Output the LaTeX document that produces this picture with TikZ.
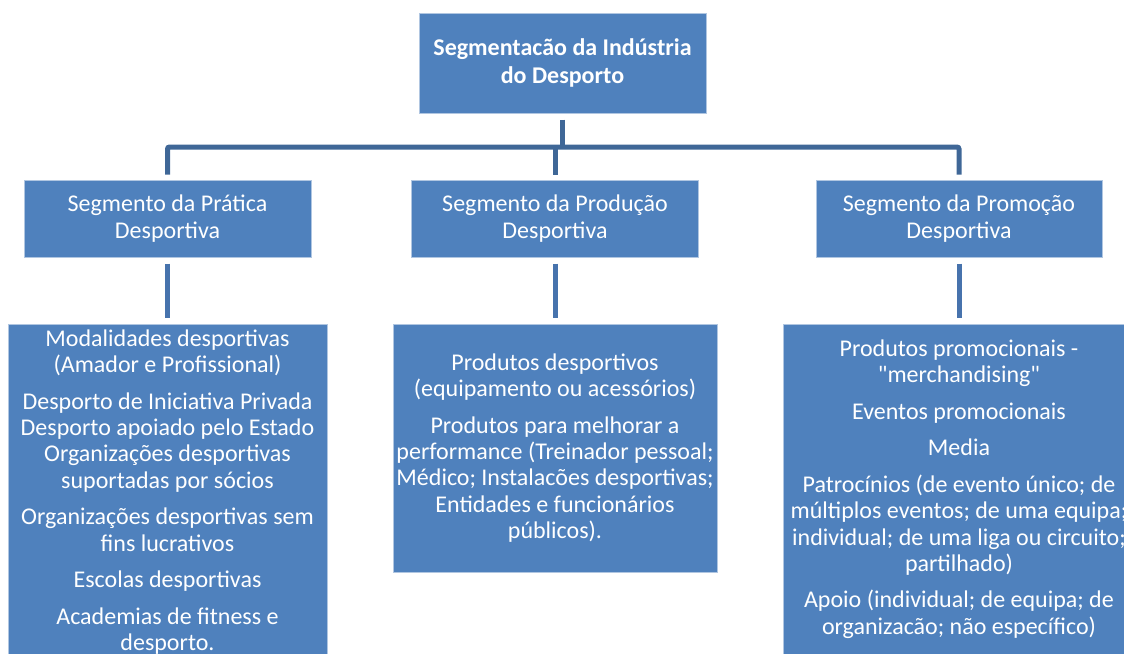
\documentclass[tikz,border=0pt]{standalone}
\usepackage{fontspec}
\setmainfont{Carlito}
\usepackage{tikz}
\definecolor{boxblue}{HTML}{4F81BD}
\definecolor{busblue}{HTML}{3F6797}
\definecolor{stemblue}{HTML}{4773AD}
\def\boxfont{\fontsize{24}{26.3}\selectfont}

\begin{document}
\begin{tikzpicture}[x=1pt, y=1pt,
		segbox/.style={fill=boxblue, draw=boxblue!45!white, line width=1pt, inner sep=0pt,
			text=white, align=center, font=\boxfont},
		busline/.style={draw=busblue, line width=5pt, rounded corners=2pt},
		stemline/.style={draw=stemblue, line width=5pt}]
			%%%%% START %%%%%
			
			\useasboundingbox (0, 0) rectangle (1124, -653);
			\clip (0, 0) rectangle (1124, -653);
			
			\node[segbox, minimum width=287, minimum height=100, font=\fontsize{24}{28}\selectfont\bfseries] (top) at (562.5, -63) {Segmentacão da Indústria\\do Desporto};
			
			\node[segbox, minimum width=287, minimum height=77] (pratica) at (167.5, -218.5) {Segmento da Prática\\Desportiva};
			\node[segbox, minimum width=287, minimum height=77] (producao) at (555, -218.5) {Segmento da Produção\\Desportiva};
			\node[segbox, minimum width=286, minimum height=77] (promocao) at (959, -218.5) {Segmento da Promoção\\Desportiva};
			
			\node[segbox, minimum width=319, minimum height=336] (listpratica) at (167.5, -492) {Modalidades desportivas\\(Amador e Profissional)\\[10.3pt]
				Desporto de Iniciativa Privada\\Desporto apoiado pelo Estado\\Organizações desportivas\\suportadas por sócios\\[10.3pt]
				Organizações desportivas sem\\fins lucrativos\\[10.3pt]
				Escolas desportivas\\[10.3pt]
				Academias de fitness e\\desporto.};
			\node[segbox, minimum width=324, minimum height=248] (listproducao) at (555, -448) {Produtos desportivos\\(equipamento ou acessórios)\\[10.3pt]
				Produtos para melhorar a\\performance (Treinador pessoal;\\Médico; Instalacões desportivas;\\Entidades e funcionários\\públicos).};
			\node[segbox, minimum width=352, minimum height=330] (listpromocao) at (959, -489) {Produtos promocionais -\\{\addfontfeature{Ligatures=TeXOff}"merchandising"}\\[10.3pt]
				Eventos promocionais\\[10.3pt]
				Media\\[10.3pt]
				Patrocínios (de evento único; de\\múltiplos eventos; de uma equipa;\\individual; de uma liga ou circuito;\\partilhado)\\[10.3pt]
				Apoio (individual; de equipa; de\\organizacão; não específico)};
			
			% bus from the top box to the three segments
			\coordinate (bus) at (0, -147);
			\draw[busline, shorten <=6pt] (top.south) -- (top.south |- bus);
			\draw[busline, shorten <=5pt, shorten >=5pt] (pratica.north) |- (promocao.north |- bus) -- (promocao.north);
			\draw[busline, shorten >=5pt] (producao.north |- bus) -- (producao.north);
			
			% segment to its list
			\draw[stemline, shorten <=6pt, shorten >=6pt] (pratica.south) -- (listpratica.north);
			\draw[stemline, shorten <=6pt, shorten >=6pt] (producao.south) -- (listproducao.north);
			\draw[stemline, shorten <=6pt, shorten >=6pt] (promocao.south) -- (listpromocao.north);
			
			%%%%% END %%%%%
		\end{tikzpicture}
\end{document}
